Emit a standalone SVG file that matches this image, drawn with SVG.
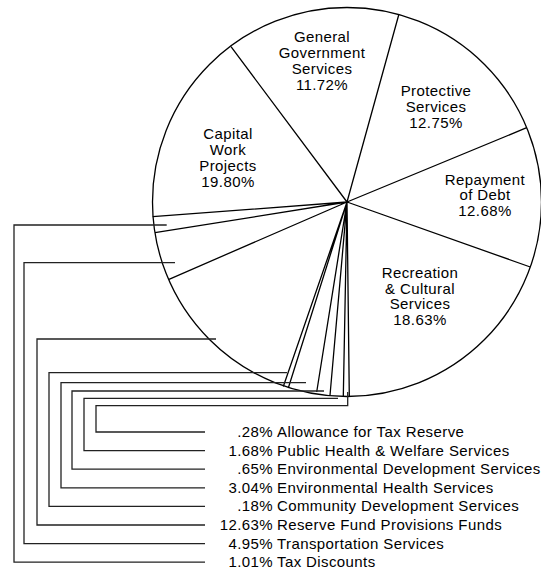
<svg xmlns="http://www.w3.org/2000/svg" width="541" height="571" viewBox="0 0 541 571">
<style>
.pie{fill:none;stroke:#000;stroke-width:1.3}
.lead{fill:none;stroke:#222;stroke-width:1.3}
text{font-family:"Liberation Sans",Arial,sans-serif;font-size:15px;letter-spacing:0.4px;fill:#000}
.c{text-anchor:middle}
.r{text-anchor:end}
</style>
<rect width="541" height="571" fill="#fff"/>
<g id="pie">
<circle class="pie" cx="347" cy="202" r="194.5"/>
<path class="pie" d="M347,202L231,46.7M347,202L398.7,15M347,202L526.7,127.7M347,202L530.3,267M347,202L349.3,396.5M347,202L343.3,396.5M347,202L330,395.3M347,202L316.7,392M347,202L288.3,388M347,202L283.3,386.5M347,202L169,279.3M347,202L155,232.7M347,202L152.7,216.7"/>
</g>
<g id="general"><text class="c" x="322" y="42">General</text><text class="c" x="322" y="58">Government</text><text class="c" x="322" y="74">Services</text><text class="c" x="322" y="90">11.72%</text></g>
<g id="protective"><text class="c" x="436" y="95.5">Protective</text><text class="c" x="436" y="111.5">Services</text><text class="c" x="436" y="127.5">12.75%</text></g>
<g id="capital"><text class="c" x="228" y="139">Capital</text><text class="c" x="228" y="155">Work</text><text class="c" x="228" y="171">Projects</text><text class="c" x="228" y="186.5">19.80%</text></g>
<g id="repayment"><text class="c" x="485" y="184.5">Repayment</text><text class="c" x="485" y="200">of Debt</text><text class="c" x="485" y="216">12.68%</text></g>
<g id="recreation"><text class="c" x="420" y="278">Recreation</text><text class="c" x="420" y="293.5">&amp; Cultural</text><text class="c" x="420" y="309">Services</text><text class="c" x="420" y="325">18.63%</text></g>
<g id="connectors">
<polyline class="lead" points="347.7,392 347.7,405.7 96,405.7 96,432 205,432"/>
<polyline class="lead" points="338,398.3 84,398.3 84,450.6 205,450.6"/>
<polyline class="lead" points="324,391 72,391 72,469.2 205,469.2"/>
<polyline class="lead" points="306,382.7 61,382.7 61,487.8 205,487.8"/>
<polyline class="lead" points="287,372.7 49,372.7 49,506.4 205,506.4"/>
<polyline class="lead" points="216,339 37,339 37,525 205,525"/>
<polyline class="lead" points="175,262.7 24,262.7 24,543.6 205,543.6"/>
<polyline class="lead" points="166.7,225 14,225 14,562.2 205,562.2"/>
</g>
<g id="legend">
<g id="l1"><text class="r" x="273" y="437">.28%</text><text x="277" y="437">Allowance for Tax Reserve</text></g>
<g id="l2"><text class="r" x="273" y="455.6">1.68%</text><text x="277" y="455.6">Public Health &amp; Welfare Services</text></g>
<g id="l3"><text class="r" x="273" y="474.2">.65%</text><text x="277" y="474.2">Environmental Development Services</text></g>
<g id="l4"><text class="r" x="273" y="492.8">3.04%</text><text x="277" y="492.8">Environmental Health Services</text></g>
<g id="l5"><text class="r" x="273" y="511.4">.18%</text><text x="277" y="511.4">Community Development Services</text></g>
<g id="l6"><text class="r" x="273" y="530">12.63%</text><text x="277" y="530">Reserve Fund Provisions Funds</text></g>
<g id="l7"><text class="r" x="273" y="548.6">4.95%</text><text x="277" y="548.6">Transportation Services</text></g>
<g id="l8"><text class="r" x="273" y="567.2">1.01%</text><text x="277" y="567.2">Tax Discounts</text></g>
</g>
</svg>
